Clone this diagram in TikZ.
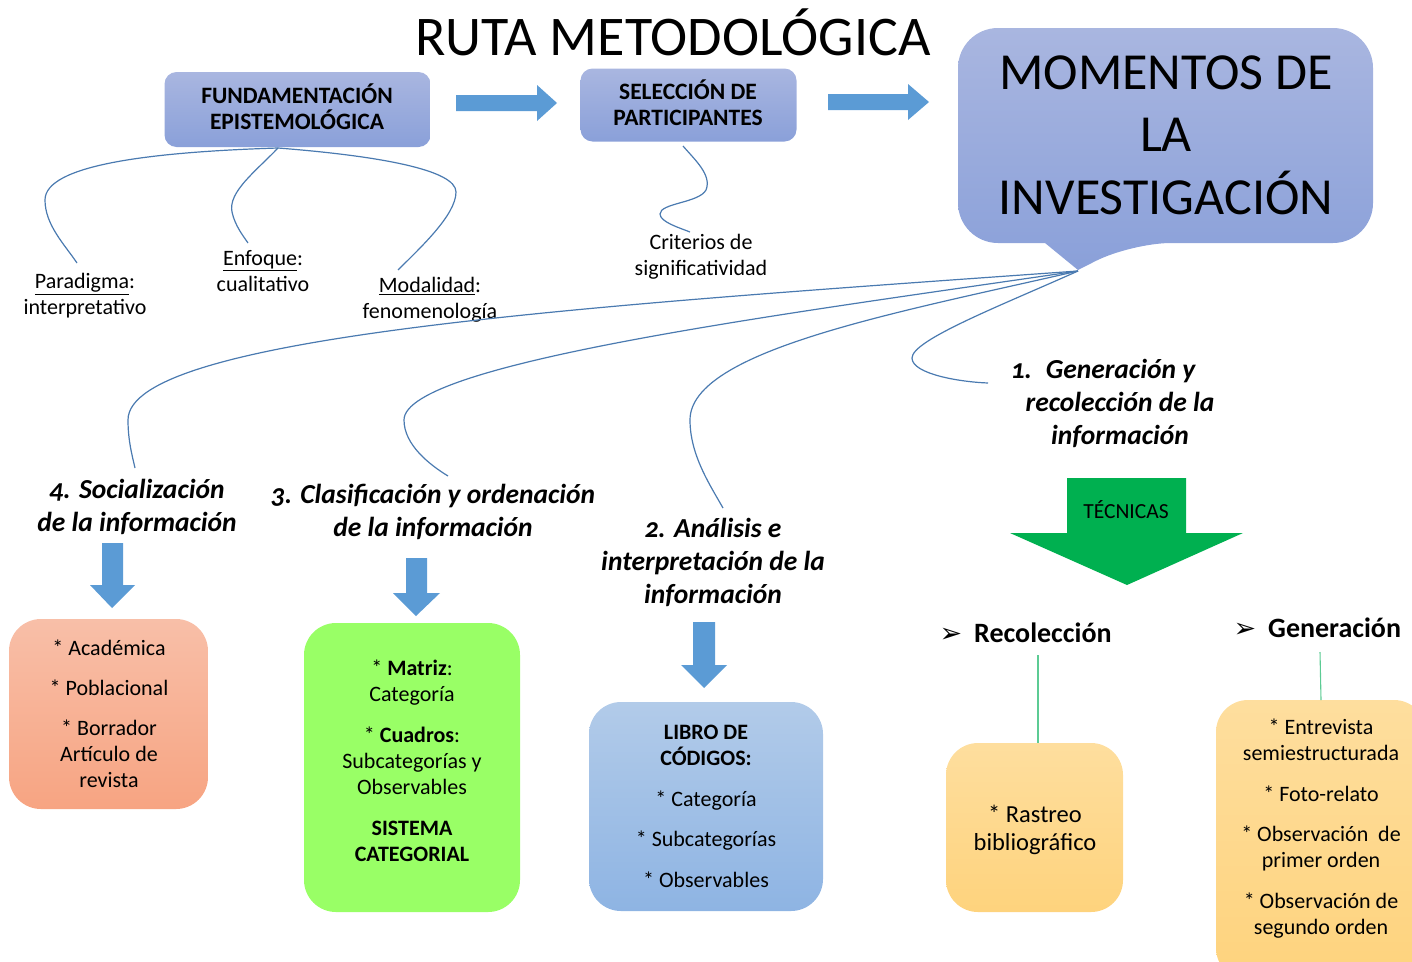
\documentclass[tikz,border=0pt]{standalone}
\usepackage{fontspec}
\setmainfont{Carlito}
\newfontfamily\dejavu{DejaVu Sans}
\definecolor{hdrTop}{HTML}{A9B6E0}
\definecolor{hdrBot}{HTML}{8AA0D9}
\definecolor{arrowBlue}{HTML}{5B9BD5}
\definecolor{lineBlue}{HTML}{4A7AB0}
\definecolor{orTop}{HTML}{F8BFA8}
\definecolor{orBot}{HTML}{F7A482}
\definecolor{greenBox}{HTML}{99FF66}
\definecolor{blTop}{HTML}{B2CBE9}
\definecolor{blBot}{HTML}{8EB4E3}
\definecolor{yeTop}{HTML}{FEDE9E}
\definecolor{yeBot}{HTML}{FED37D}
\definecolor{tecGreen}{HTML}{00B050}
\definecolor{lineGreen}{HTML}{5CCB94}
\tikzset{
  hdrbox/.style={rounded corners=12pt, top color=hdrTop, bottom color=hdrBot, draw=none, inner sep=0pt},
  lowbox/.style={rounded corners=32pt, draw=none, inner sep=0pt},
  blockarrow/.style={fill=arrowBlue, draw=none},
  branch/.style={draw=lineBlue, line width=1.2pt},
  gline/.style={draw=lineGreen, line width=1.1pt},
  hdrtext/.style={align=center, font=\fontsize{23.5}{26}\selectfont\bfseries},
  bodytext/.style={align=center, font=\fontsize{22}{26}\selectfont},
  momtext/.style={align=center, font=\fontsize{27.5}{33}\selectfont\bfseries\itshape\addfontfeatures{Numbers=OldStyle}},
}
\begin{document}
\begin{tikzpicture}[x=1pt,y=-1pt]
\useasboundingbox (0,0) rectangle (1412,961);

% title
\node[font=\fontsize{56}{60}\selectfont] (title) at (673,32) {RUTA METODOLÓGICA};

% header boxes
\node[hdrbox, minimum width=266pt, minimum height=75pt] (fund) at (297.5,109.5) {};
\node[hdrtext] (fundt) at (297,107) {FUNDAMENTACIÓN\\EPISTEMOLÓGICA};
\node[hdrbox, minimum width=216pt, minimum height=73pt] (sel) at (688.5,105) {};
\node[hdrtext] (selt) at (688,103) {SELECCIÓN DE\\PARTICIPANTES};

% right block arrows
\path[blockarrow] (456,95) -- (537,95) -- (537,85) -- (557,103) -- (537,121) -- (537,111) -- (456,111) -- cycle;
\path[blockarrow] (828,94) -- (908,94) -- (908,84) -- (929,102) -- (908,120) -- (908,110) -- (828,110) -- cycle;

% callout
\path[top color=hdrTop, bottom color=hdrBot, draw=none, rounded corners=40pt]
  (958,28) -- (1373,28) -- (1373,243) -- (1131,243) [sharp corners] -- (1078,270) -- (1045,243) [rounded corners=40pt] -- (958,243) -- cycle;
\node[align=center, font=\fontsize{52}{62.5}\selectfont] (mom) at (1166,135) {MOMENTOS DE\\LA\\INVESTIGACIÓN};
\coordinate (tip) at (1078,271);

% labels under fundamentacion
\coordinate (fb) at (278,148);
\node[bodytext] (para) at (85,296) {\underline{Paradigma}:\\interpretativo};
\node[bodytext] (enf) at (263,271) {\underline{Enfoque}:\\cualitativo};
\node[bodytext] (moda) at (430,300) {\underline{Modalidad}:\\fenomenología};
\coordinate (pe) at (77,263);
\coordinate (ee) at (248,243);
\coordinate (me) at (398,270);
\draw[branch] (fb) .. controls (150,152) and (45,165) .. (45,200) .. controls (45,225) and (65,245) .. (pe);
\draw[branch] (fb) .. controls (255,172) and (228,192) .. (232,212) .. controls (235,226) and (244,237) .. (ee);
\draw[branch] (fb) .. controls (380,156) and (456,170) .. (456,192) .. controls (456,215) and (420,248) .. (me);

% criterios
\node[bodytext] (crit) at (701,257) {Criterios de\\significatividad};
\coordinate (sb) at (683,146);
\coordinate (ce) at (690,232);
\draw[branch] (sb) .. controls (695,160) and (712,175) .. (706,190) .. controls (699,203) and (660,203) .. (660,214) .. controls (660,222) and (680,228) .. (ce);

% moments
\node[momtext] (m4) at (137,507) {4. Socialización\\de la información};
\node[momtext] (m3) at (433,512) {3. Clasificación y ordenación\\de la información};
\node[momtext] (m2) at (713,562) {2. Análisis e\\interpretación de la\\información};
\node[momtext] (m1) at (1120,403) {\hspace*{-34pt}1.\enspace Generación y\\recolección de la\\información};
\coordinate (e4) at (135,468);
\coordinate (e3) at (448,476);
\coordinate (e2) at (723,508);
\coordinate (e1) at (988,383);
\draw[branch] (tip) .. controls (600,305) and (128,335) .. (128,420) .. controls (128,440) and (132,455) .. (e4);
\draw[branch] (tip) .. controls (800,312) and (404,362) .. (404,420) .. controls (404,445) and (430,465) .. (e3);
\draw[branch] (tip) .. controls (900,312) and (690,350) .. (690,420) .. controls (690,455) and (710,485) .. (e2);
\draw[branch] (tip) .. controls (1000,306) and (912,340) .. (912,358) .. controls (912,374) and (960,382) .. (e1);

% down arrows
\path[blockarrow] (102,543) -- (123,543) -- (123,585) -- (135,585) -- (112,608) -- (90,585) -- (102,585) -- cycle;
\path[blockarrow] (406,558) -- (427,558) -- (427,593) -- (440,593) -- (416,616) -- (393,593) -- (406,593) -- cycle;
\path[blockarrow] (693,622) -- (715,622) -- (715,665) -- (727,665) -- (704,688) -- (681,665) -- (693,665) -- cycle;

% tecnicas arrow
\path[fill=tecGreen] (1067,478) -- (1186,478) -- (1186,533) -- (1243,533) -- (1127,585) -- (1010,533) -- (1067,533) -- cycle;
\node[font=\fontsize{21.5}{24}\selectfont] (tec) at (1126,510) {TÉCNICAS};

% recoleccion / generacion
\node[anchor=west, font=\fontsize{28}{30}\selectfont\bfseries] (rec) at (936,633) {{\dejavu\fontsize{27}{28}\selectfont ➢}\hspace{12pt}Recolección};
\node[anchor=west, font=\fontsize{28}{30}\selectfont\bfseries] (gen) at (1230,628) {{\dejavu\fontsize{27}{28}\selectfont ➢}\hspace{12pt}Generación};

% lower boxes
\node[lowbox, top color=orTop, bottom color=orBot, minimum width=199pt, minimum height=190pt] (ob) at (108.5,714) {};
\node[bodytext] (obt) at (109,714) {* Académica\\[14pt]* Poblacional\\[14pt]* Borrador\\Artículo de\\revista};

\node[lowbox, fill=greenBox, minimum width=216pt, minimum height=289pt] (gb) at (412,767.5) {};
\node[bodytext] (gbt) at (412,761) {* \textbf{Matriz}:\\Categoría\\[15pt]* \textbf{Cuadros}:\\Subcategorías y\\Observables\\[15pt]\textbf{SISTEMA}\\\textbf{CATEGORIAL}};

\node[lowbox, top color=blTop, bottom color=blBot, minimum width=234pt, minimum height=209pt] (bb) at (706,806.5) {};
\node[bodytext] (bbt) at (706,806) {\textbf{LIBRO DE}\\\textbf{CÓDIGOS:}\\[15pt]* Categoría\\[14pt]* Subcategorías\\[15pt]* Observables};

\node[lowbox, top color=yeTop, bottom color=yeBot, minimum width=177pt, minimum height=169pt] (yb1) at (1034.5,827.5) {};
\node[align=center, font=\fontsize{24.5}{28}\selectfont] (yb1t) at (1035,830) {* Rastreo\\bibliográfico};

\node[lowbox, top color=yeTop, bottom color=yeBot, minimum width=210pt, minimum height=280pt] (yb2) at (1321,840) {};
\node[bodytext] (yb2t) at (1321,829) {* Entrevista\\semiestructurada\\[15pt]* Foto-relato\\[14pt]* Observación\ \ de\\primer orden\\[15pt]* Observación de\\segundo orden};

\coordinate (g1a) at (1038,655);
\coordinate (g2a) at (1320,652);
\draw[gline] (g1a) -- (yb1.north -| g1a);
\draw[gline] (g2a) -- (1321,700);
\end{tikzpicture}
\end{document}
